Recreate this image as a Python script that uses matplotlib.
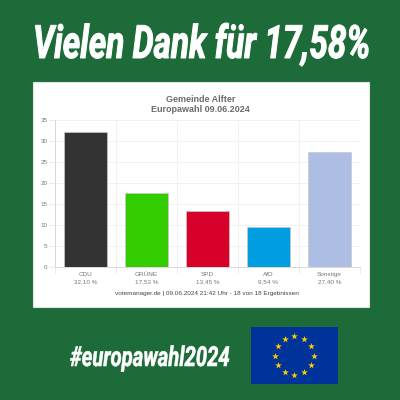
#!/usr/bin/env python3
"""Wahlergebnis-Kachel Gemeinde Alfter, Europawahl 09.06.2024."""
import numpy as np
import matplotlib
matplotlib.use('Agg')
import matplotlib.pyplot as plt
from matplotlib.patches import Rectangle
from matplotlib.patheffects import AbstractPathEffect
from matplotlib.transforms import Affine2D

PARTIES = ['CDU', 'GRÜNE', 'SPD', 'AfD', 'Sonstige']
VALUES = [32.10, 17.53, 13.45, 9.54, 27.40]
VALUE_LABELS = ['32,10 %', '17,53 %', '13,45 %', '9,54 %', '27,40 %']
COLORS = ['#333333', '#33cc00', '#d6002a', '#009ee0', '#adbde3']
YTICKS = [0, 5, 10, 15, 20, 25, 30, 35]

GREEN = '#1c6b38'
W = H = 400.0


class Tall(AbstractPathEffect):
    """Stretch text upward from its baseline and thicken it (no condensed heavy font installed)."""
    def __init__(self, y0, sy, stroke):
        super().__init__()
        self.y0, self.sy, self.stroke = H - y0, sy, stroke

    def draw_path(self, renderer, gc, tpath, affine, rgbFace=None):
        stretch = Affine2D().translate(0, -self.y0).scale(1, self.sy).translate(0, self.y0)
        gc0 = renderer.new_gc()
        gc0.copy_properties(gc)
        gc0.set_linewidth(self.stroke)
        gc0.set_foreground('white')
        renderer.draw_path(gc0, tpath, affine + stretch, rgbFace)
        gc0.restore()


def px(x, y):
    return x / W, 1 - y / H


plt.rcParams['font.family'] = ['Liberation Sans', 'DejaVu Sans']
fig = plt.figure(figsize=(4, 4), dpi=100, facecolor=GREEN)

# white chart card
fig.add_artist(Rectangle(px(33, 307), 336 / W, 225 / H, transform=fig.transFigure,
                         facecolor='white', edgecolor='#dfe6e0', lw=0.8, zorder=-1))

# headline and hashtag
fig.text(*px(33, 58), 'Vielen Dank für 17,58%', color='white', fontsize=24, fontweight='bold',
         style='italic', family='Roboto', ha='left', va='baseline',
         path_effects=[Tall(58, 1.38, 0.7)])
fig.text(*px(70, 366), '#europawahl2024', color='white', fontsize=14.6, fontweight='bold',
         style='italic', family='Roboto', ha='left', va='baseline',
         path_effects=[Tall(366, 1.36, 0.4)])

# bar chart
ax = fig.add_axes([55 / W, 1 - 267 / H, 305 / W, 147 / H])
x = np.arange(len(PARTIES))
ax.bar(x, VALUES, width=0.72, color=COLORS, edgecolor='#c8c8c8', linewidth=0.5, zorder=3)
ax.set_xlim(-0.5, len(PARTIES) - 0.5)
ax.set_ylim(0, 35)
ax.set_yticks(YTICKS)
ax.set_xticks(np.arange(len(PARTIES) + 1) - 0.5)
ax.set_xticklabels([])
ax.grid(True, color='#f0f0f0', lw=0.6, zorder=0)
ax.tick_params(axis='x', length=4, width=0.6, color='#e6e6e6')
ax.tick_params(axis='y', length=4, width=0.6, color='#e6e6e6', labelsize=4.5,
               labelcolor='#777777', pad=1.5)
for name, spine in ax.spines.items():
    spine.set_visible(name in ('left', 'bottom'))
    spine.set_color('#d8d8d8')
    spine.set_linewidth(0.7)
for i, (party, lab) in enumerate(zip(PARTIES, VALUE_LABELS)):
    ax.annotate(party, (i, 0), xytext=(0, -9), textcoords='offset pixels',
                ha='center', va='baseline', fontsize=4.6, color='#777777')
    ax.annotate(lab, (i, 0), xytext=(0, -16), textcoords='offset pixels',
                ha='center', va='baseline', fontsize=4.6, color='#777777')

# chart title and footer
fig.text(*px(201, 99), 'Gemeinde Alfter', ha='center', va='center', fontsize=6.5,
         fontweight='bold', color='#6b6b6b')
fig.text(*px(200, 110), 'Europawahl 09.06.2024', ha='center', va='center', fontsize=6.5,
         fontweight='bold', color='#6b6b6b')
fig.text(*px(207, 294), 'votemanager.de | 09.06.2024 21:42 Uhr - 18 von 18 Ergebnissen',
         ha='center', va='center', fontsize=4.6, color='#444444')

# EU flag
flag = fig.add_axes([251 / W, 1 - 384 / H, 86.5 / W, 57 / H], facecolor='#003399')
flag.set_xlim(-1.5, 1.5)
flag.set_ylim(-1, 1)
flag.set_xticks([])
flag.set_yticks([])
for spine in flag.spines.values():
    spine.set_visible(False)
angles = np.deg2rad(np.arange(0, 360, 30))
flag.scatter(0.67 * np.cos(angles), 0.67 * np.sin(angles), marker='*', s=26,
             color='#ffcc00', linewidths=0)

fig.savefig('out.png', dpi=100, facecolor=GREEN)
